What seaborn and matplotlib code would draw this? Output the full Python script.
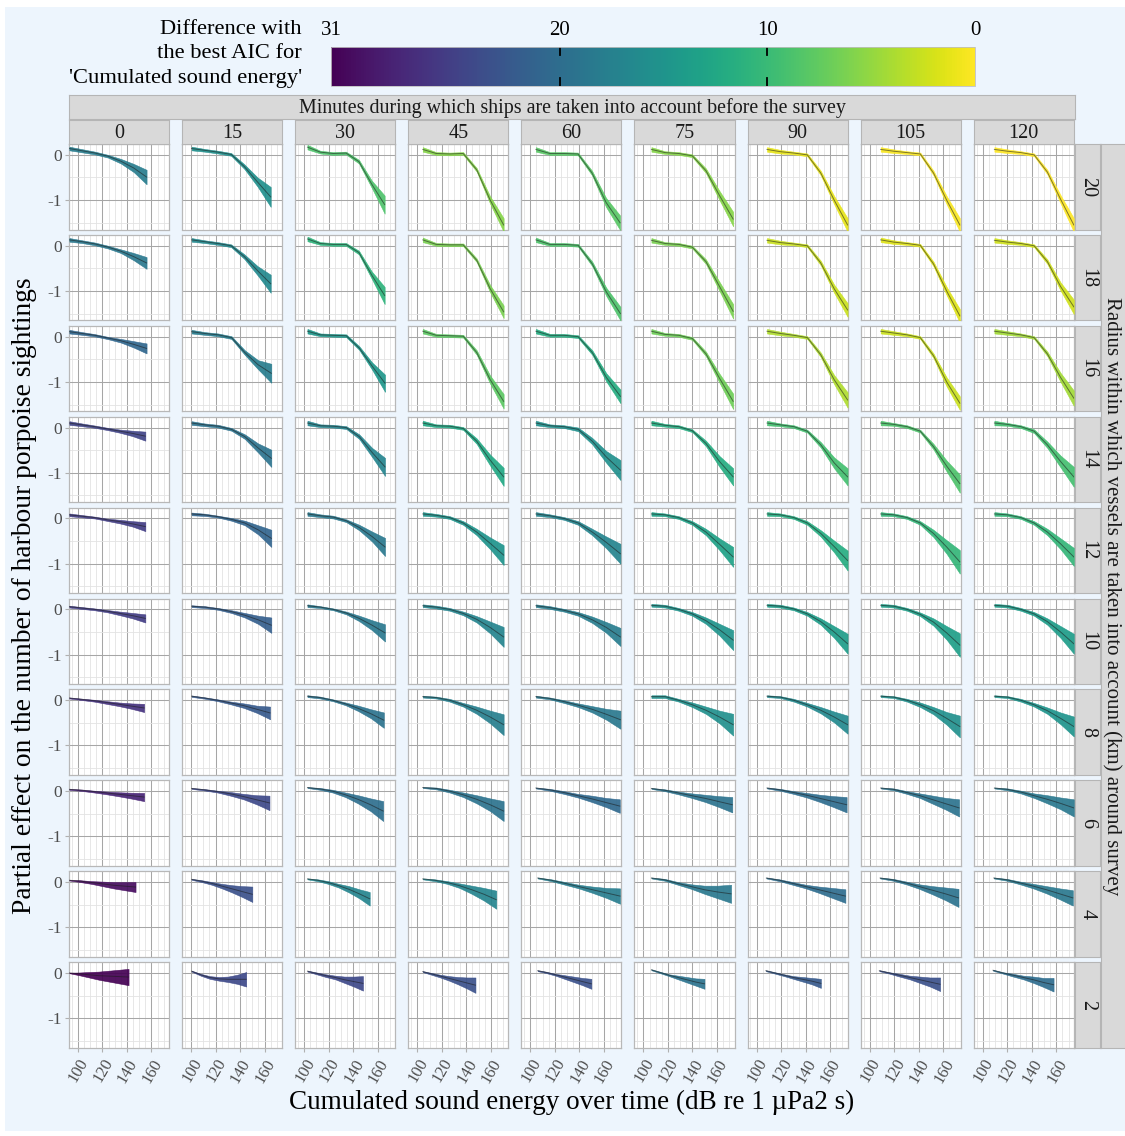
import numpy as np
import pandas as pd
import matplotlib
matplotlib.use("Agg")
import matplotlib.pyplot as plt
import seaborn as sns
from matplotlib.colors import Normalize
from matplotlib.ticker import MultipleLocator, FixedLocator
from matplotlib.patches import Rectangle
import matplotlib.cm as cm

plt.rcParams['font.family'] = ['Liberation Serif', 'DejaVu Serif']
plt.rcParams['axes.unicode_minus'] = False

# ---------------- data ----------------
RADII = [20, 18, 16, 14, 12, 10, 8, 6, 4, 2]
MINUTES = [0, 15, 30, 45, 60, 75, 90, 105, 120]

AIC_DIFF = [
    [18.0, 15.5, 8.7, 5.6, 8.0, 5.6, 1.2, 0.3, 0.0],
    [18.6, 16.4, 10.9, 6.2, 8.7, 6.2, 2.5, 1.5, 2.2],
    [20.8, 18.0, 14.6, 7.8, 11.8, 6.8, 3.7, 2.5, 4.3],
    [24.8, 19.2, 17.0, 12.4, 15.5, 11.8, 9.3, 8.7, 9.3],
    [25.4, 21.0, 18.6, 14.9, 17.0, 13.3, 11.8, 10.5, 10.5],
    [25.4, 21.7, 18.6, 17.0, 18.0, 14.9, 14.0, 13.6, 14.0],
    [26.4, 22.3, 19.2, 17.7, 18.6, 15.5, 16.4, 15.5, 14.9],
    [27.9, 24.2, 19.8, 19.2, 20.5, 19.2, 20.0, 19.2, 18.6],
    [30.0, 23.3, 17.0, 17.0, 18.0, 18.6, 20.0, 19.2, 18.6],
    [31.0, 24.2, 24.2, 23.3, 23.3, 19.2, 22.3, 23.3, 20.0],
]

X_START = [
    [93, 100.5, 102.7, 104.5, 104.5, 106.5, 108.5, 109, 109.5],
    [93, 100.5, 102.7, 104.5, 104.5, 106.5, 108.5, 109, 109.5],
    [93, 100.5, 102.7, 104.5, 104.5, 106.5, 108.5, 109, 109.5],
    [93, 100.5, 102.7, 104.5, 104.5, 106.5, 108.5, 109, 109.5],
    [93, 100.5, 102.7, 104.5, 104.5, 106.5, 108.5, 109, 109.5],
    [93, 100.5, 102.7, 104.5, 104.5, 106.5, 108.5, 109, 109.5],
    [93, 100.5, 102.7, 104.5, 104.5, 106.5, 108.5, 109, 109.5],
    [93, 100.5, 102.7, 104.5, 104.5, 106.5, 108.5, 109, 109.5],
    [93, 100.5, 102.7, 104.5, 106.0, 106.5, 108.0, 108.5, 109.0],
    [93, 100.5, 102.7, 104.5, 106.0, 106.5, 107.6, 107.9, 108.4],
]
X_END = [
    [156, 165, 165.7, 170.5, 173.2, 173.2, 174.3, 173.6, 174.3],
    [156, 165, 165.7, 170.5, 173.5, 173.2, 174.3, 173.6, 174.3],
    [156, 165.5, 166, 170.5, 173.5, 173.2, 174.3, 173.6, 174.3],
    [155, 165.5, 166, 170.5, 173.5, 173.2, 174.3, 173.6, 174.3],
    [155, 165.5, 166, 170.5, 173.5, 173.2, 174.3, 173.6, 174.3],
    [155, 165.5, 166, 170.5, 173.5, 173.2, 174.3, 173.6, 174.3],
    [154, 164.5, 165, 170.5, 173.5, 173.2, 174.3, 173.6, 174.3],
    [154, 164, 164.5, 170.5, 173, 172.5, 173.5, 173, 174.3],
    [147, 150, 153.5, 164.5, 173.2, 171.5, 172.5, 172.5, 173.5],
    [141.3, 145, 148, 147.5, 149.8, 149.8, 152.5, 157.5, 157.8],
]

FIT_R20 = [
    [0.14, 0.09, 0.04, -0.03, -0.14, -0.29, -0.49],
    [0.14, 0.10, 0.06, 0.01, -0.26, -0.60, -0.93],
    [0.17, 0.06, 0.03, 0.04, -0.15, -0.65, -1.10],
    [0.12, 0.03, 0.02, 0.03, -0.33, -1.00, -1.55],
    [0.12, 0.03, 0.03, 0.02, -0.40, -1.05, -1.50],
    [0.12, 0.05, 0.03, -0.02, -0.35, -0.90, -1.42],
    [0.12, 0.07, 0.04, 0.00, -0.40, -1.00, -1.55],
    [0.12, 0.08, 0.05, 0.02, -0.40, -1.00, -1.55],
    [0.12, 0.08, 0.05, 0.00, -0.38, -0.98, -1.55],
]
HW_R20 = [
    [0.04, 0.035, 0.03, 0.03, 0.05, 0.09, 0.16],
    [0.04, 0.03, 0.03, 0.03, 0.05, 0.10, 0.22],
    [0.05, 0.03, 0.03, 0.03, 0.04, 0.08, 0.20],
    [0.05, 0.03, 0.03, 0.03, 0.04, 0.08, 0.15],
    [0.05, 0.03, 0.03, 0.03, 0.05, 0.10, 0.16],
    [0.05, 0.03, 0.03, 0.03, 0.05, 0.10, 0.16],
    [0.05, 0.04, 0.03, 0.03, 0.05, 0.09, 0.15],
    [0.05, 0.04, 0.03, 0.03, 0.05, 0.09, 0.15],
    [0.05, 0.04, 0.03, 0.03, 0.05, 0.09, 0.15],
]
FIT_R18 = [
    [0.13, 0.09, 0.04, -0.03, -0.12, -0.24, -0.38],
    [0.13, 0.09, 0.05, 0.00, -0.24, -0.55, -0.84],
    [0.15, 0.05, 0.03, 0.03, -0.15, -0.65, -1.10],
    [0.13, 0.03, 0.02, 0.02, -0.32, -0.95, -1.46],
    [0.13, 0.03, 0.03, 0.01, -0.40, -1.02, -1.50],
    [0.12, 0.05, 0.03, -0.03, -0.35, -0.90, -1.45],
    [0.12, 0.07, 0.04, 0.00, -0.38, -0.95, -1.42],
    [0.13, 0.08, 0.05, 0.01, -0.40, -1.00, -1.55],
    [0.12, 0.08, 0.05, 0.00, -0.35, -0.90, -1.35],
]
HW_R18 = [
    [0.04, 0.03, 0.03, 0.03, 0.04, 0.08, 0.13],
    [0.04, 0.03, 0.03, 0.03, 0.05, 0.10, 0.20],
    [0.05, 0.03, 0.03, 0.03, 0.04, 0.08, 0.19],
    [0.05, 0.03, 0.03, 0.03, 0.04, 0.08, 0.14],
    [0.05, 0.03, 0.03, 0.03, 0.05, 0.09, 0.15],
    [0.05, 0.03, 0.03, 0.03, 0.05, 0.10, 0.16],
    [0.05, 0.04, 0.03, 0.03, 0.05, 0.09, 0.15],
    [0.05, 0.04, 0.03, 0.03, 0.05, 0.09, 0.15],
    [0.05, 0.04, 0.03, 0.03, 0.05, 0.09, 0.16],
]
FIT_R16 = [
    [0.11, 0.07, 0.03, -0.03, -0.09, -0.17, -0.26],
    [0.11, 0.07, 0.04, -0.02, -0.35, -0.62, -0.81],
    [0.12, 0.04, 0.03, 0.02, -0.25, -0.65, -1.03],
    [0.12, 0.03, 0.02, 0.01, -0.35, -0.95, -1.43],
    [0.12, 0.03, 0.03, 0.00, -0.35, -0.90, -1.32],
    [0.12, 0.05, 0.03, -0.04, -0.38, -0.92, -1.43],
    [0.12, 0.07, 0.03, -0.02, -0.40, -0.95, -1.40],
    [0.12, 0.08, 0.04, -0.02, -0.42, -1.00, -1.47],
    [0.12, 0.08, 0.04, -0.02, -0.38, -0.90, -1.36],
]
HW_R16 = [
    [0.04, 0.03, 0.025, 0.025, 0.04, 0.07, 0.11],
    [0.04, 0.03, 0.03, 0.03, 0.05, 0.10, 0.21],
    [0.05, 0.03, 0.03, 0.03, 0.04, 0.08, 0.19],
    [0.05, 0.03, 0.03, 0.03, 0.05, 0.09, 0.16],
    [0.05, 0.03, 0.03, 0.03, 0.05, 0.09, 0.15],
    [0.05, 0.03, 0.03, 0.03, 0.05, 0.10, 0.17],
    [0.05, 0.04, 0.03, 0.03, 0.05, 0.10, 0.17],
    [0.05, 0.04, 0.03, 0.03, 0.05, 0.10, 0.15],
    [0.05, 0.04, 0.03, 0.03, 0.05, 0.10, 0.17],
]
FIT_R14 = [
    [0.10, 0.06, 0.02, -0.03, -0.08, -0.13, -0.19],
    [0.10, 0.06, 0.03, -0.04, -0.20, -0.45, -0.68],
    [0.10, 0.04, 0.03, 0.00, -0.20, -0.55, -0.87],
    [0.10, 0.04, 0.03, -0.02, -0.30, -0.72, -1.09],
    [0.10, 0.04, 0.02, -0.04, -0.30, -0.65, -0.94],
    [0.10, 0.05, 0.02, -0.07, -0.35, -0.75, -1.09],
    [0.10, 0.06, 0.02, -0.08, -0.38, -0.78, -1.09],
    [0.10, 0.07, 0.02, -0.08, -0.42, -0.85, -1.24],
    [0.10, 0.07, 0.02, -0.08, -0.38, -0.75, -1.09],
]
HW_R14 = [
    [0.04, 0.03, 0.025, 0.025, 0.035, 0.06, 0.10],
    [0.04, 0.03, 0.03, 0.03, 0.05, 0.10, 0.19],
    [0.05, 0.03, 0.03, 0.03, 0.05, 0.10, 0.20],
    [0.05, 0.03, 0.03, 0.03, 0.06, 0.12, 0.20],
    [0.05, 0.03, 0.03, 0.04, 0.07, 0.13, 0.22],
    [0.05, 0.03, 0.03, 0.03, 0.06, 0.12, 0.19],
    [0.05, 0.03, 0.03, 0.03, 0.06, 0.12, 0.19],
    [0.05, 0.03, 0.03, 0.03, 0.06, 0.12, 0.20],
    [0.05, 0.03, 0.03, 0.04, 0.07, 0.13, 0.22],
]
FIT_R12 = [
    [0.08, 0.05, 0.02, -0.03, -0.07, -0.12, -0.18],
    [0.10, 0.08, 0.04, -0.02, -0.10, -0.25, -0.44],
    [0.10, 0.06, 0.03, -0.05, -0.20, -0.40, -0.63],
    [0.10, 0.07, 0.02, -0.10, -0.30, -0.55, -0.81],
    [0.10, 0.06, 0.00, -0.10, -0.30, -0.53, -0.78],
    [0.10, 0.08, 0.02, -0.10, -0.30, -0.57, -0.85],
    [0.10, 0.08, 0.02, -0.10, -0.33, -0.62, -0.93],
    [0.10, 0.08, 0.02, -0.10, -0.33, -0.63, -0.96],
    [0.10, 0.08, 0.02, -0.10, -0.30, -0.56, -0.85],
]
HW_R12 = [
    [0.03, 0.025, 0.02, 0.025, 0.04, 0.06, 0.10],
    [0.03, 0.025, 0.02, 0.03, 0.05, 0.10, 0.19],
    [0.04, 0.03, 0.03, 0.03, 0.06, 0.11, 0.20],
    [0.04, 0.03, 0.03, 0.04, 0.07, 0.13, 0.22],
    [0.04, 0.03, 0.03, 0.04, 0.07, 0.13, 0.22],
    [0.04, 0.03, 0.03, 0.04, 0.07, 0.13, 0.22],
    [0.04, 0.03, 0.03, 0.04, 0.07, 0.13, 0.22],
    [0.04, 0.03, 0.03, 0.04, 0.08, 0.15, 0.26],
    [0.04, 0.03, 0.03, 0.04, 0.07, 0.12, 0.20],
]
FIT_R10 = [
    [0.06, 0.03, 0.00, -0.04, -0.09, -0.14, -0.20],
    [0.07, 0.05, 0.01, -0.05, -0.13, -0.23, -0.35],
    [0.08, 0.05, 0.00, -0.08, -0.20, -0.35, -0.52],
    [0.08, 0.05, 0.00, -0.09, -0.22, -0.40, -0.61],
    [0.08, 0.04, -0.02, -0.10, -0.23, -0.40, -0.61],
    [0.09, 0.07, 0.00, -0.10, -0.25, -0.45, -0.68],
    [0.09, 0.07, 0.01, -0.10, -0.27, -0.50, -0.76],
    [0.09, 0.07, 0.00, -0.11, -0.28, -0.52, -0.79],
    [0.09, 0.07, 0.00, -0.10, -0.27, -0.50, -0.76],
]
HW_R10 = [
    [0.02, 0.02, 0.02, 0.025, 0.04, 0.06, 0.09],
    [0.02, 0.02, 0.02, 0.03, 0.05, 0.09, 0.17],
    [0.03, 0.02, 0.02, 0.03, 0.06, 0.11, 0.19],
    [0.03, 0.03, 0.03, 0.04, 0.07, 0.13, 0.22],
    [0.03, 0.03, 0.03, 0.04, 0.07, 0.12, 0.20],
    [0.03, 0.03, 0.03, 0.04, 0.07, 0.13, 0.22],
    [0.03, 0.03, 0.03, 0.04, 0.07, 0.13, 0.22],
    [0.03, 0.03, 0.03, 0.04, 0.08, 0.15, 0.26],
    [0.03, 0.03, 0.03, 0.04, 0.07, 0.13, 0.22],
]
FIT_R8 = [
    [0.05, 0.02, -0.01, -0.05, -0.09, -0.13, -0.17],
    [0.09, 0.05, 0.00, -0.06, -0.12, -0.20, -0.28],
    [0.09, 0.06, 0.00, -0.08, -0.18, -0.30, -0.44],
    [0.08, 0.06, 0.00, -0.10, -0.22, -0.37, -0.54],
    [0.08, 0.04, -0.03, -0.11, -0.20, -0.31, -0.43],
    [0.08, 0.08, 0.00, -0.10, -0.22, -0.37, -0.54],
    [0.09, 0.07, 0.00, -0.10, -0.22, -0.37, -0.54],
    [0.09, 0.07, 0.00, -0.10, -0.23, -0.40, -0.58],
    [0.09, 0.07, 0.00, -0.10, -0.23, -0.40, -0.58],
]
HW_R8 = [
    [0.01, 0.015, 0.02, 0.03, 0.04, 0.06, 0.09],
    [0.015, 0.015, 0.02, 0.03, 0.05, 0.08, 0.14],
    [0.02, 0.02, 0.02, 0.03, 0.06, 0.10, 0.17],
    [0.02, 0.02, 0.03, 0.04, 0.08, 0.14, 0.23],
    [0.02, 0.02, 0.03, 0.04, 0.07, 0.12, 0.20],
    [0.03, 0.03, 0.03, 0.05, 0.08, 0.14, 0.24],
    [0.02, 0.02, 0.03, 0.04, 0.07, 0.12, 0.20],
    [0.02, 0.02, 0.03, 0.05, 0.08, 0.14, 0.24],
    [0.02, 0.02, 0.03, 0.04, 0.07, 0.13, 0.22],
]
FIT_R6 = [
    [0.04, 0.02, -0.01, -0.04, -0.07, -0.10, -0.13],
    [0.06, 0.03, -0.01, -0.06, -0.12, -0.19, -0.26],
    [0.08, 0.05, 0.00, -0.08, -0.18, -0.30, -0.44],
    [0.08, 0.06, 0.00, -0.08, -0.18, -0.30, -0.44],
    [0.07, 0.03, -0.03, -0.10, -0.17, -0.25, -0.33],
    [0.06, 0.02, -0.04, -0.10, -0.16, -0.23, -0.30],
    [0.07, 0.03, -0.03, -0.09, -0.16, -0.23, -0.30],
    [0.07, 0.04, -0.03, -0.10, -0.19, -0.28, -0.37],
    [0.07, 0.04, -0.02, -0.10, -0.18, -0.27, -0.37],
]
HW_R6 = [
    [0.01, 0.015, 0.02, 0.03, 0.045, 0.065, 0.09],
    [0.01, 0.015, 0.02, 0.04, 0.06, 0.10, 0.16],
    [0.01, 0.02, 0.03, 0.05, 0.09, 0.14, 0.22],
    [0.01, 0.02, 0.03, 0.05, 0.09, 0.14, 0.22],
    [0.01, 0.02, 0.03, 0.04, 0.07, 0.10, 0.15],
    [0.01, 0.02, 0.03, 0.05, 0.08, 0.12, 0.17],
    [0.01, 0.02, 0.03, 0.05, 0.08, 0.12, 0.17],
    [0.01, 0.02, 0.03, 0.05, 0.09, 0.13, 0.19],
    [0.01, 0.02, 0.03, 0.05, 0.09, 0.13, 0.19],
]
FIT_R4 = [
    [0.04, 0.02, -0.01, -0.04, -0.07, -0.09, -0.11],
    [0.06, 0.02, -0.03, -0.09, -0.15, -0.21, -0.27],
    [0.07, 0.04, -0.01, -0.08, -0.16, -0.26, -0.37],
    [0.07, 0.04, -0.01, -0.08, -0.17, -0.27, -0.39],
    [0.09, 0.04, -0.03, -0.10, -0.17, -0.24, -0.31],
    [0.09, 0.05, -0.03, -0.10, -0.17, -0.22, -0.26],
    [0.09, 0.04, -0.03, -0.10, -0.17, -0.24, -0.31],
    [0.09, 0.05, -0.02, -0.10, -0.18, -0.26, -0.35],
    [0.09, 0.05, -0.02, -0.09, -0.17, -0.26, -0.35],
]
HW_R4 = [
    [0.005, 0.02, 0.03, 0.05, 0.07, 0.09, 0.11],
    [0.01, 0.02, 0.03, 0.05, 0.08, 0.12, 0.17],
    [0.01, 0.02, 0.03, 0.04, 0.07, 0.10, 0.15],
    [0.01, 0.02, 0.03, 0.05, 0.09, 0.14, 0.20],
    [0.01, 0.02, 0.03, 0.04, 0.07, 0.11, 0.17],
    [0.01, 0.02, 0.03, 0.05, 0.09, 0.14, 0.20],
    [0.01, 0.02, 0.03, 0.04, 0.07, 0.11, 0.15],
    [0.01, 0.02, 0.03, 0.05, 0.09, 0.14, 0.20],
    [0.01, 0.02, 0.03, 0.05, 0.08, 0.12, 0.17],
]
FIT_R2 = [
    [0.00, -0.02, -0.04, -0.06, -0.07, -0.08, -0.09],
    [0.04, -0.04, -0.10, -0.13, -0.14, -0.14, -0.14],
    [0.04, -0.01, -0.06, -0.10, -0.15, -0.19, -0.23],
    [0.03, -0.02, -0.07, -0.12, -0.17, -0.22, -0.27],
    [0.05, 0.01, -0.04, -0.09, -0.14, -0.19, -0.24],
    [0.07, 0.01, -0.05, -0.10, -0.15, -0.20, -0.24],
    [0.05, 0.00, -0.05, -0.10, -0.14, -0.18, -0.23],
    [0.05, 0.00, -0.05, -0.10, -0.15, -0.20, -0.25],
    [0.06, 0.00, -0.05, -0.10, -0.15, -0.21, -0.26],
]
HW_R2 = [
    [0.005, 0.03, 0.06, 0.09, 0.12, 0.15, 0.18],
    [0.01, 0.02, 0.03, 0.04, 0.06, 0.10, 0.16],
    [0.01, 0.02, 0.03, 0.04, 0.07, 0.11, 0.16],
    [0.01, 0.02, 0.03, 0.05, 0.08, 0.12, 0.17],
    [0.01, 0.015, 0.02, 0.04, 0.06, 0.08, 0.11],
    [0.01, 0.015, 0.02, 0.04, 0.06, 0.08, 0.11],
    [0.01, 0.015, 0.02, 0.03, 0.05, 0.07, 0.10],
    [0.01, 0.015, 0.03, 0.04, 0.07, 0.10, 0.15],
    [0.01, 0.015, 0.03, 0.04, 0.07, 0.10, 0.15],
]

FITS = [FIT_R20, FIT_R18, FIT_R16, FIT_R14, FIT_R12, FIT_R10, FIT_R8, FIT_R6, FIT_R4, FIT_R2]
HWS = [HW_R20, HW_R18, HW_R16, HW_R14, HW_R12, HW_R10, HW_R8, HW_R6, HW_R4, HW_R2]

X_TICKS = [100, 120, 140, 160]
Y_TICKS = [0, -1]

TITLE_STRIP = "Minutes during which ships are taken into account before the survey"
RIGHT_STRIP = "Radius within which vessels are taken into account (km) around survey"
X_LABEL = "Cumulated sound energy over time (dB re 1 \u00b5Pa2 s)"
Y_LABEL = "Partial effect on the number of harbour porpoise sightings"
CB_TITLE = "Difference with\nthe best AIC for\n'Cumulated sound energy'"

# long table
rows = []
for r, rad in enumerate(RADII):
    for c, mn in enumerate(MINUTES):
        fit = FITS[r][c]
        hw = HWS[r][c]
        xs = np.linspace(X_START[r][c], X_END[r][c], len(fit))
        for xv, fv, hv in zip(xs, fit, hw):
            rows.append(dict(radius=rad, minutes=mn, x=xv, fit=fv,
                             lo=fv - hv, hi=fv + hv, aic=AIC_DIFF[r][c]))
df = pd.DataFrame(rows)

# ---------------- layout ----------------
W, H = 1125, 1136
BG = '#EDF5FD'
fig = plt.figure(figsize=(W / 100, H / 100), dpi=100, facecolor='white')
fig.patches.append(Rectangle((5 / W, 1 - 1131 / H), 1120 / W, 1124 / H,
                             transform=fig.transFigure, facecolor=BG,
                             edgecolor='none', zorder=-10))


def add_ax(x, y, w, h, **kw):
    return fig.add_axes([x / W, 1 - (y + h) / H, w / W, h / H], **kw)


norm = Normalize(vmin=0, vmax=31)
cmap = plt.get_cmap('viridis_r')

XL = (92.7, 174.3)
YL = (-1.65, 0.24)
PX0, PW, PSTEP = 69.0, 100.0, 113.1
PY0, PH, PYSTEP = 144.0, 85.5, 90.9

STRIP_FC = '#D9D9D9'
STRIP_EC = '#B5B5B5'

for r, rad in enumerate(RADII):
    for c, mn in enumerate(MINUTES):
        ax = add_ax(PX0 + PSTEP * c, PY0 + PYSTEP * r, PW, PH)
        ax.set_facecolor('white')
        sub = df[(df.radius == rad) & (df.minutes == mn)]
        col = cmap(norm(AIC_DIFF[r][c]))
        ax.fill_between(sub.x, sub.lo, sub.hi, color=col, alpha=0.92,
                        linewidth=0.4, edgecolor=col, zorder=3)
        sns.lineplot(data=sub, x='x', y='fit', ax=ax, color='#1a1a1a',
                     linewidth=0.7, alpha=0.55, zorder=4, legend=False)
        ax.set_xlim(*XL)
        ax.set_ylim(*YL)
        ax.xaxis.set_major_locator(FixedLocator(X_TICKS))
        ax.xaxis.set_minor_locator(MultipleLocator(5))
        ax.yaxis.set_major_locator(FixedLocator(Y_TICKS))
        ax.yaxis.set_minor_locator(FixedLocator([-0.5, -1.5]))
        ax.grid(which='major', color='#a6a6a6', linewidth=0.75, zorder=0)
        ax.grid(which='minor', color='#e3e3e3', linewidth=0.6, zorder=0)
        ax.set_axisbelow(True)
        for s in ax.spines.values():
            s.set_color('#b8b8b8')
            s.set_linewidth(0.9)
        ax.set_xlabel('')
        ax.set_ylabel('')
        ax.tick_params(which='minor', length=0)
        ax.tick_params(which='major', length=3, color='#b0b0b0', width=0.8,
                       labelcolor='#4d4d4d')
        if c == 0:
            ax.set_yticklabels(['0', '-1'], fontsize=12.5)
            ax.tick_params(axis='y', pad=2)
        else:
            ax.tick_params(axis='y', length=0, labelleft=False)
        if r == len(RADII) - 1:
            ax.set_xticklabels([str(t) for t in X_TICKS], fontsize=12,
                               rotation=60, ha='right', va='top',
                               rotation_mode='anchor')
            ax.tick_params(axis='x', pad=3)
        else:
            ax.tick_params(axis='x', length=0, labelbottom=False)

        # row strip
        if c == len(MINUTES) - 1:
            sa = add_ax(1075, PY0 + PYSTEP * r, 25, PH)
            sa.set_facecolor(STRIP_FC)
            sa.set_xticks([]); sa.set_yticks([])
            for s in sa.spines.values():
                s.set_color(STRIP_EC); s.set_linewidth(0.8)
            sa.text(0.5, 0.5, str(rad), rotation=-90, ha='center', va='center',
                    fontsize=14.5, color='#1a1a1a', transform=sa.transAxes)
        # column strip
        if r == 0:
            sa = add_ax(PX0 + PSTEP * c, 120, PW, 24)
            sa.set_facecolor(STRIP_FC)
            sa.set_xticks([]); sa.set_yticks([])
            for s in sa.spines.values():
                s.set_color(STRIP_EC); s.set_linewidth(0.8)
            sa.text(0.5, 0.45, str(mn), ha='center', va='center',
                    fontsize=14.5, color='#1a1a1a', transform=sa.transAxes)

# top spanning strip
sa = add_ax(69, 95, 1006, 24)
sa.set_facecolor(STRIP_FC)
sa.set_xticks([]); sa.set_yticks([])
for s in sa.spines.values():
    s.set_color(STRIP_EC); s.set_linewidth(0.8)
sa.text(0.5, 0.45, TITLE_STRIP, ha='center', va='center', fontsize=14.4,
        color='#1a1a1a', transform=sa.transAxes)

# right spanning strip
sa = add_ax(1101, 144, 26, 904)
sa.set_facecolor(STRIP_FC)
sa.set_xticks([]); sa.set_yticks([])
for s in sa.spines.values():
    s.set_color(STRIP_EC); s.set_linewidth(0.8)
sa.text(0.42, 0.5, RIGHT_STRIP, rotation=-90, ha='center', va='center',
        fontsize=15, color='#1a1a1a', transform=sa.transAxes)

# axis titles
fig.text(572 / W, 1 - 1102 / H, X_LABEL, ha='center', va='center', fontsize=19.5)
fig.text(25 / W, 1 - 596 / H, Y_LABEL, ha='center', va='center', fontsize=19.8,
         rotation=90)

# colour bar
cax = add_ax(331, 47, 644, 39)
sm = cm.ScalarMappable(norm=norm, cmap=cmap)
cb = fig.colorbar(sm, cax=cax, orientation='horizontal')
cax.set_xlim(31, 0)
cb.outline.set_edgecolor('#bfbfbf')
cb.outline.set_linewidth(0.6)
cax.xaxis.set_ticks_position('top')
cax.xaxis.set_label_position('top')
cax.set_xticks([31, 20, 10, 0])
cax.set_xticklabels(['31', '20', '10', '0'], fontsize=15)
cax.tick_params(axis='x', length=0, pad=5)
for t in [20, 10]:
    cax.plot([t, t], [0, 0.2], color='black', lw=1.3)
    cax.plot([t, t], [0.8, 1.0], color='black', lw=1.3)
cax.set_ylim(0, 1)
fig.text(302 / W, 1 - 54 / H, CB_TITLE, ha='right', va='center', fontsize=16.2,
         multialignment='right', linespacing=1.38)

fig.savefig('out.png', dpi=100, facecolor=fig.get_facecolor())
